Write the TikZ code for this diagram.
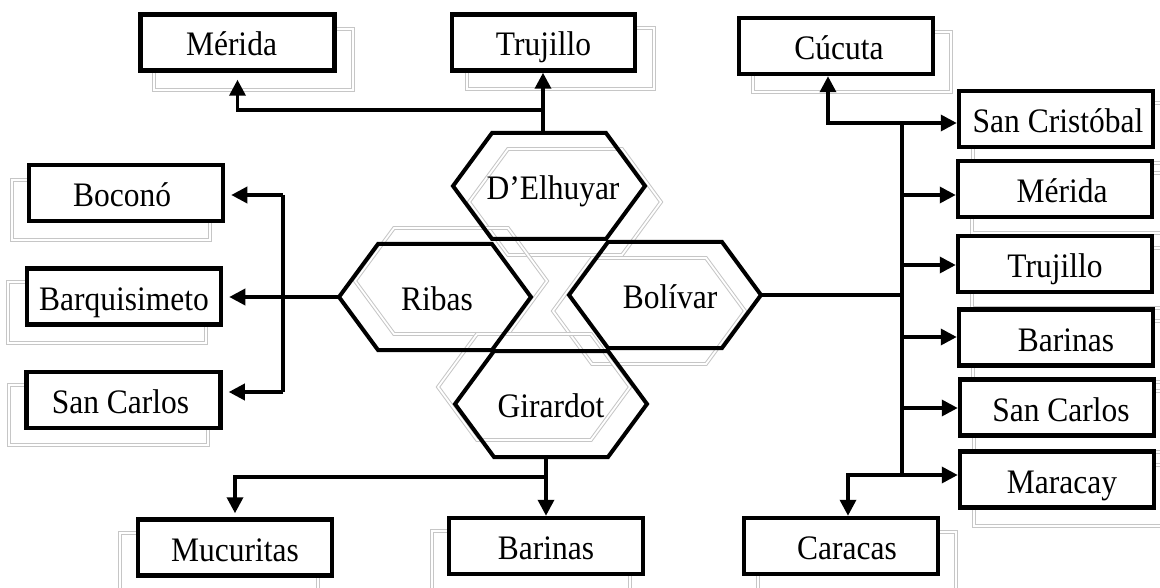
\documentclass[tikz,border=0pt]{standalone}
\usepackage{graphicx}
\usepackage{fontspec}
\setmainfont{Liberation Serif}
\usetikzlibrary{arrows.meta,calc}
\pgfdeclarelayer{background}
\pgfsetlayers{background,main}
\tikzset{
 box/.style={draw=black, line width=4.5pt, fill=white, minimum width=194pt, minimum height=56pt, inner sep=0pt, text height=34pt, text depth=7pt, font=\fontsize{31.5}{38}\selectfont},
 shad/.style={draw=gray!45, line width=1pt, double=white, double distance=1.8pt},
 hexline/.style={draw=black, line width=4pt, line join=miter},
 hextext/.style={inner sep=0pt, text height=34pt, text depth=7pt, font=\fontsize{31.5}{38}\selectfont},
 conn/.style={line width=3.5pt, draw=black},
 arr/.style={conn, -{Triangle[length=16pt,width=16pt]}},
}
\newcommand{\tx}[1]{\scalebox{1}[1.09]{#1}}
\newcommand{\shadbox}[3]{\draw[shad] ($(#1.north west)+(#2,#3)$) rectangle ($(#1.south east)+(#2,#3)$);}
\newcommand{\drawhex}[4]{\draw[#4] ($(#1)+(#2,#3)+(-57,-53)$) -- ($(#1)+(#2,#3)+(57,-53)$) -- ($(#1)+(#2,#3)+(96,0)$) -- ($(#1)+(#2,#3)+(57,53)$) -- ($(#1)+(#2,#3)+(-57,53)$) -- ($(#1)+(#2,#3)+(-96,0)$) -- cycle;}
\begin{document}
\begin{tikzpicture}[x=1pt,y=-1pt]
\useasboundingbox (0,0) rectangle (1160,588);
% hexagon centres
\coordinate (delc) at (549,186);
\coordinate (ribc) at (435,297);
\coordinate (bolc) at (665,295);
\coordinate (girc) at (551,404);
% boxes
\node[box] (merT) at (237.5,42.5) {\tx{Mérida}\hspace*{12pt}};
\node[box, minimum width=183pt] (truT) at (543.5,42.5) {\tx{Trujillo}};
\node[box] (cuc) at (836,46) {\hspace*{6pt}\tx{Cúcuta}};
\node[box] (sanCr) at (1056,119) {\hspace*{4pt}\tx{San Cristóbal}};
\node[box] (merR) at (1055,189) {\hspace*{14pt}\tx{Mérida}};
\node[box] (truR) at (1055,264) {\tx{Trujillo}};
\node[box] (barR) at (1056,337.5) {\hspace*{20pt}\tx{Barinas}};
\node[box] (scR) at (1057,407.5) {\hspace*{8pt}\tx{San Carlos}};
\node[box] (marR) at (1057,479.5) {\hspace*{10pt}\tx{Maracay}};
\node[box] (car) at (841,546) {\hspace*{12pt}\tx{Caracas}};
\node[box] (boc) at (126,193) {\tx{Boconó}\hspace*{8pt}};
\node[box] (barq) at (124,296.5) {\tx{Barquisimeto}};
\node[box] (scL) at (123.5,400) {\tx{San Carlos}\hspace*{6pt}};
\node[box] (muc) at (235,547.5) {\tx{Mucuritas}};
\node[box] (barB) at (546,546) {\tx{Barinas}};
% hexagon texts
\node[hextext] (del) at (delc) {\hspace*{8pt}\tx{D’Elhuyar}};
\node[hextext] (rib) at (ribc) {\hspace*{4pt}\tx{Ribas}};
\node[hextext] (bol) at (bolc) {\hspace*{10pt}\tx{Bolívar}};
\node[hextext] (gir) at (girc) {\tx{Girardot}};
% shadows
\begin{pgfonlayer}{background}
\shadbox{merT}{16}{17}
\shadbox{truT}{17}{16}
\shadbox{cuc}{16}{16}
\shadbox{sanCr}{16}{14}
\shadbox{merR}{16}{14}
\shadbox{truR}{16}{14}
\shadbox{barR}{16}{14}
\shadbox{scR}{16}{14}
\shadbox{marR}{16}{16}
\shadbox{car}{16}{16}
\shadbox{boc}{-15}{17}
\shadbox{barq}{-17}{16}
\shadbox{scL}{-15}{15}
\shadbox{muc}{-16}{16}
\shadbox{barB}{-15}{15}
\drawhex{delc}{16}{16}{shad}
\drawhex{ribc}{16}{-16}{shad}
\drawhex{bolc}{-16}{16}{shad}
\drawhex{girc}{-17}{-17}{shad}
\end{pgfonlayer}
% hexagons
\drawhex{delc}{0}{0}{hexline}
\drawhex{ribc}{0}{0}{hexline}
\drawhex{bolc}{0}{0}{hexline}
\drawhex{girc}{0}{0}{hexline}
% hexagon connection points
\coordinate (del-t) at ($(delc)+(-6,-53)$);
\coordinate (j1) at ($(delc)+(-6,-76)$);
\coordinate (rib-w) at ($(ribc)+(-96,0)$);
\coordinate (bol-e) at ($(bolc)+(96,0)$);
\coordinate (gir-b) at ($(girc)+(-5,53)$);
\coordinate (j2) at ($(girc)+(-5,73)$);
\coordinate (lt) at (283,195);
\coordinate (lb) at (283,392);
\coordinate (rt) at (902,123);
\coordinate (rb) at (902,475);
% top
\draw[arr] (del-t) -- (del-t |- truT.south);
\draw[arr, shorten >=7pt] (j1) -| (merT.south);
% left
\draw[conn] (lt) -- (lb);
\draw[arr, shorten >=6pt] (rib-w) -- (rib-w -| barq.east);
\draw[arr, shorten >=6pt] (lt) -- (lt -| boc.east);
\draw[arr, shorten >=6pt] (lb) -- (lb -| scL.east);
% right
\draw[conn] (bol-e) -- (bol-e -| rt);
\draw[conn] (rt) -- (rb);
\draw[arr] (rt) -- (rt -| sanCr.west);
\draw[arr] (902,195) -- (merR.west |- 0,195);
\draw[arr] (902,265) -- (truR.west |- 0,265);
\draw[arr] (902,337) -- (barR.west |- 0,337);
\draw[arr] (902,408) -- (scR.west |- 0,408);
\draw[arr] (rb) -- (rb -| marR.west);
\draw[arr] (rt) -| ([xshift=-8pt]cuc.south);
\draw[arr] (rb) -| ([xshift=7pt]car.north);
% bottom
\draw[arr] (gir-b) -- (gir-b |- barB.north);
\draw[arr, shorten >=4pt] (j2) -| (muc.north);
\end{tikzpicture}
\end{document}
